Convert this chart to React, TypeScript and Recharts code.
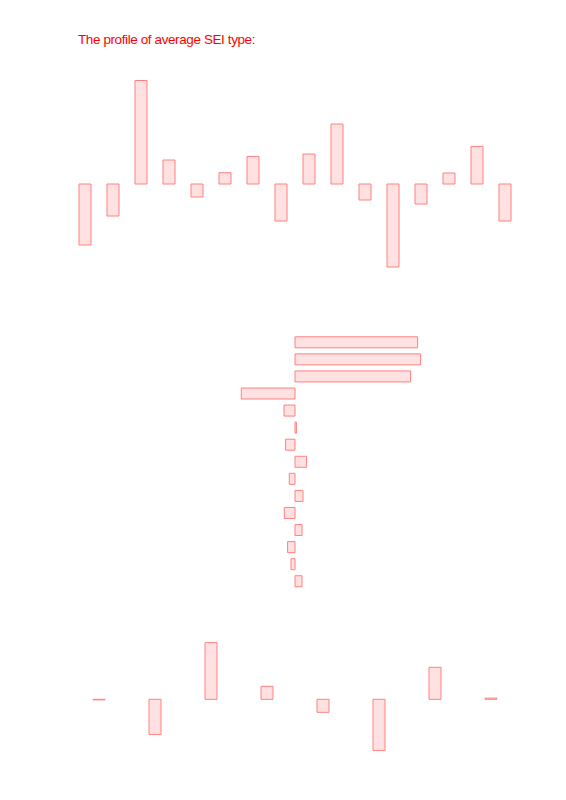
import React from 'react'
import { BarChart, Bar, XAxis, YAxis } from 'recharts'

// top profile: 16 scales (pixel-ish units)
const topCategories = ['S1', 'S2', 'S3', 'S4', 'S5', 'S6', 'S7', 'S8', 'S9', 'S10', 'S11', 'S12', 'S13', 'S14', 'S15', 'S16']
const topValues = [-61, -32, 103.5, 24, -13, 11.3, 27.6, -37, 30, 60, -16, -83, -20, 11, 37.6, -37]

// middle profile: 15 horizontal bars
const midCategories = ['T1', 'T2', 'T3', 'T4', 'T5', 'T6', 'T7', 'T8', 'T9', 'T10', 'T11', 'T12', 'T13', 'T14', 'T15']
const midValues = [122.6, 125.6, 115.6, -53.7, -11, 1.4, -9.4, 11.6, -5.7, 8, -10.7, 7, -7.4, -4, 7]

// bottom profile: 8 groups
const botCategories = ['G1', 'G2', 'G3', 'G4', 'G5', 'G6', 'G7', 'G8']
const botValues = [-0.6, -35.3, 56.7, 13, -13, -51.3, 32, 1.2]

const FILL = '#ffe1e2'
const STROKE = '#ff8080'

const topData = topCategories.map((c, i) => ({ name: c, value: topValues[i] }))
const midData = midCategories.map((c, i) => ({ name: c, value: midValues[i] }))
const botData = botCategories.map((c, i) => ({ name: c, value: botValues[i] }))

export default function App() {
  return (
    <div style={{ position: 'absolute', left: 0, top: 0, width: 566, height: 800, background: '#fff' }}>
      <div style={{
        position: 'absolute', left: 78, top: 32.3, fontFamily: '"Liberation Sans", Arial, sans-serif',
        fontSize: 13.5, lineHeight: '16px', letterSpacing: -0.4, color: '#ff0000', whiteSpace: 'nowrap',
      }}>
        The profile of average SEI type:
      </div>

      {/* 上段 */}
      <div style={{ position: 'absolute', left: 0, top: 0 }}>
        <BarChart width={566} height={300} data={topData} margin={{ top: 64, right: 47, bottom: 16, left: 71 }}>
          <XAxis dataKey="name" hide />
          <YAxis type="number" domain={[-100, 120]} hide />
          <Bar dataKey="value" barSize={12} fill={FILL} stroke={STROKE} strokeWidth={1} isAnimationActive={false} />
        </BarChart>
      </div>

      {/* 中段 */}
      <div style={{ position: 'absolute', left: 0, top: 320 }}>
        <BarChart width={566} height={300} data={midData} layout="vertical"
          margin={{ top: 13.8, right: 47, bottom: 30.2, left: 71 }}>
          <XAxis type="number" domain={[-224, 224]} hide />
          <YAxis type="category" dataKey="name" hide />
          <Bar dataKey="value" barSize={11} fill={FILL} stroke={STROKE} strokeWidth={1} isAnimationActive={false} />
        </BarChart>
      </div>

      {/* 下段 */}
      <div style={{ position: 'absolute', left: 0, top: 620 }}>
        <BarChart width={566} height={160} data={botData} margin={{ top: 9.3, right: 47, bottom: 10.7, left: 71 }}>
          <XAxis dataKey="name" hide />
          <YAxis type="number" domain={[-70, 70]} hide />
          <Bar dataKey="value" barSize={12} fill={FILL} stroke={STROKE} strokeWidth={1} isAnimationActive={false} />
        </BarChart>
      </div>
    </div>
  )
}
